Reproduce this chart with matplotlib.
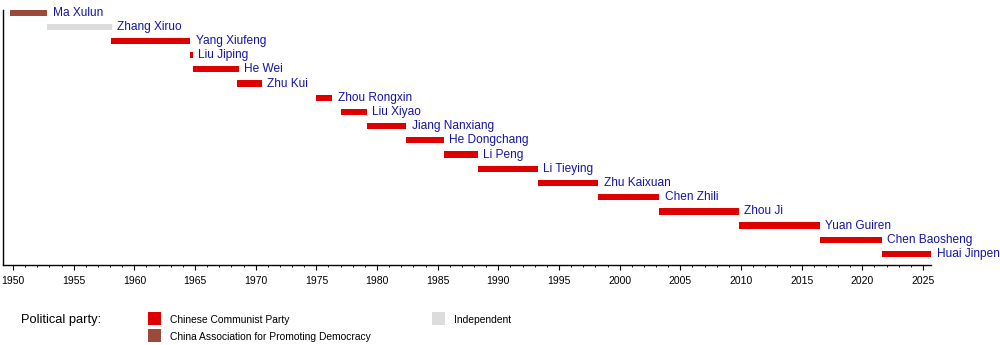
"""Timeline of the Ministers of Education of the People's Republic of China."""

import matplotlib
matplotlib.use("Agg")
import matplotlib.pyplot as plt
from matplotlib.patches import Rectangle
from matplotlib.ticker import MultipleLocator

plt.rcParams["font.family"] = ["Liberation Sans", "DejaVu Sans"]

# Term of office of each minister (decimal years) and party affiliation.
names = [
    "Ma Xulun", "Zhang Xiruo", "Yang Xiufeng", "Liu Jiping", "He Wei",
    "Zhu Kui", "Zhou Rongxin", "Liu Xiyao", "Jiang Nanxiang", "He Dongchang",
    "Li Peng", "Li Tieying", "Zhu Kaixuan", "Chen Zhili", "Zhou Ji",
    "Yuan Guiren", "Chen Baosheng", "Huai Jinpeng",
]
starts = [
    1949.75, 1952.8, 1958.1, 1964.55, 1964.8, 1968.5, 1975.0, 1977.05,
    1979.15, 1982.4, 1985.5, 1988.3, 1993.25, 1998.25, 2003.25, 2009.83,
    2016.5, 2021.6,
]
ends = [
    1952.8, 1958.15, 1964.6, 1964.8, 1968.6, 1970.5, 1976.3, 1979.15,
    1982.4, 1985.5, 1988.3, 1993.25, 1998.25, 2003.25, 2009.83, 2016.5,
    2021.6, 2025.7,
]
parties = [
    "CAPD", "IND", "CCP", "CCP", "CCP", "CCP", "CCP", "CCP", "CCP", "CCP",
    "CCP", "CCP", "CCP", "CCP", "CCP", "CCP", "CCP", "CCP",
]

party_colors = {"CCP": "#DE0000", "CAPD": "#9B4B3B", "IND": "#DCDCDC"}
party_labels = {
    "CCP": "Chinese Communist Party",
    "CAPD": "China Association for Promoting Democracy",
    "IND": "Independent",
}

W, H = 1000, 345
fig = plt.figure(figsize=(W / 100, H / 100), dpi=100)

# Main timeline axes, placed in pixel terms
ax_l, ax_r, ax_t, ax_b = 3, 931, 10, 265
ax = fig.add_axes([ax_l / W, 1 - ax_b / H, (ax_r - ax_l) / W, (ax_b - ax_t) / H])

px_per_year = 910 / 75
x0 = 1950 - (13 - ax_l) / px_per_year
x1 = 1950 + (ax_r - 13) / px_per_year
ax.set_xlim(x0, x1)

row_gap = (254 - 12.5) / 17
ax.set_ylim(17 + (ax_b - 254) / row_gap, -(12.5 - ax_t) / row_gap)

for i, (name, s, e, p) in enumerate(zip(names, starts, ends, parties)):
    ax.barh(i, e - s, left=s, height=0.44, color=party_colors[p], linewidth=0)
    ax.annotate(name, xy=(e, i), xytext=(4, 0), textcoords="offset points",
                va="center", ha="left", fontsize=8.6, color="#1414A8")

for side in ("top", "right"):
    ax.spines[side].set_visible(False)
ax.spines["left"].set_linewidth(1.0)
ax.spines["bottom"].set_linewidth(1.0)

ax.set_yticks([])
ax.xaxis.set_major_locator(MultipleLocator(5))
ax.xaxis.set_minor_locator(MultipleLocator(1))
ax.tick_params(axis="x", which="major", direction="out", length=3.6, width=0.8,
               pad=4, labelsize=7.5)
ax.tick_params(axis="x", which="minor", direction="out", length=1.6, width=0.7)

# Party legend below the timeline
fig.text(21 / W, 1 - 320 / H, "Political party:", fontsize=9.3, va="center")

legend_items = [("CCP", 148, 318.5), ("CAPD", 148, 335.5), ("IND", 432, 318.5)]
for key, lx, ly in legend_items:
    fig.add_artist(Rectangle((lx / W, 1 - (ly + 6.5) / H), 13 / W, 13 / H,
                             transform=fig.transFigure, color=party_colors[key],
                             linewidth=0))
    fig.text((lx + 22) / W, 1 - (ly + 1.8) / H, party_labels[key],
             fontsize=7.4, va="center")

fig.savefig("out.png", dpi=100)
